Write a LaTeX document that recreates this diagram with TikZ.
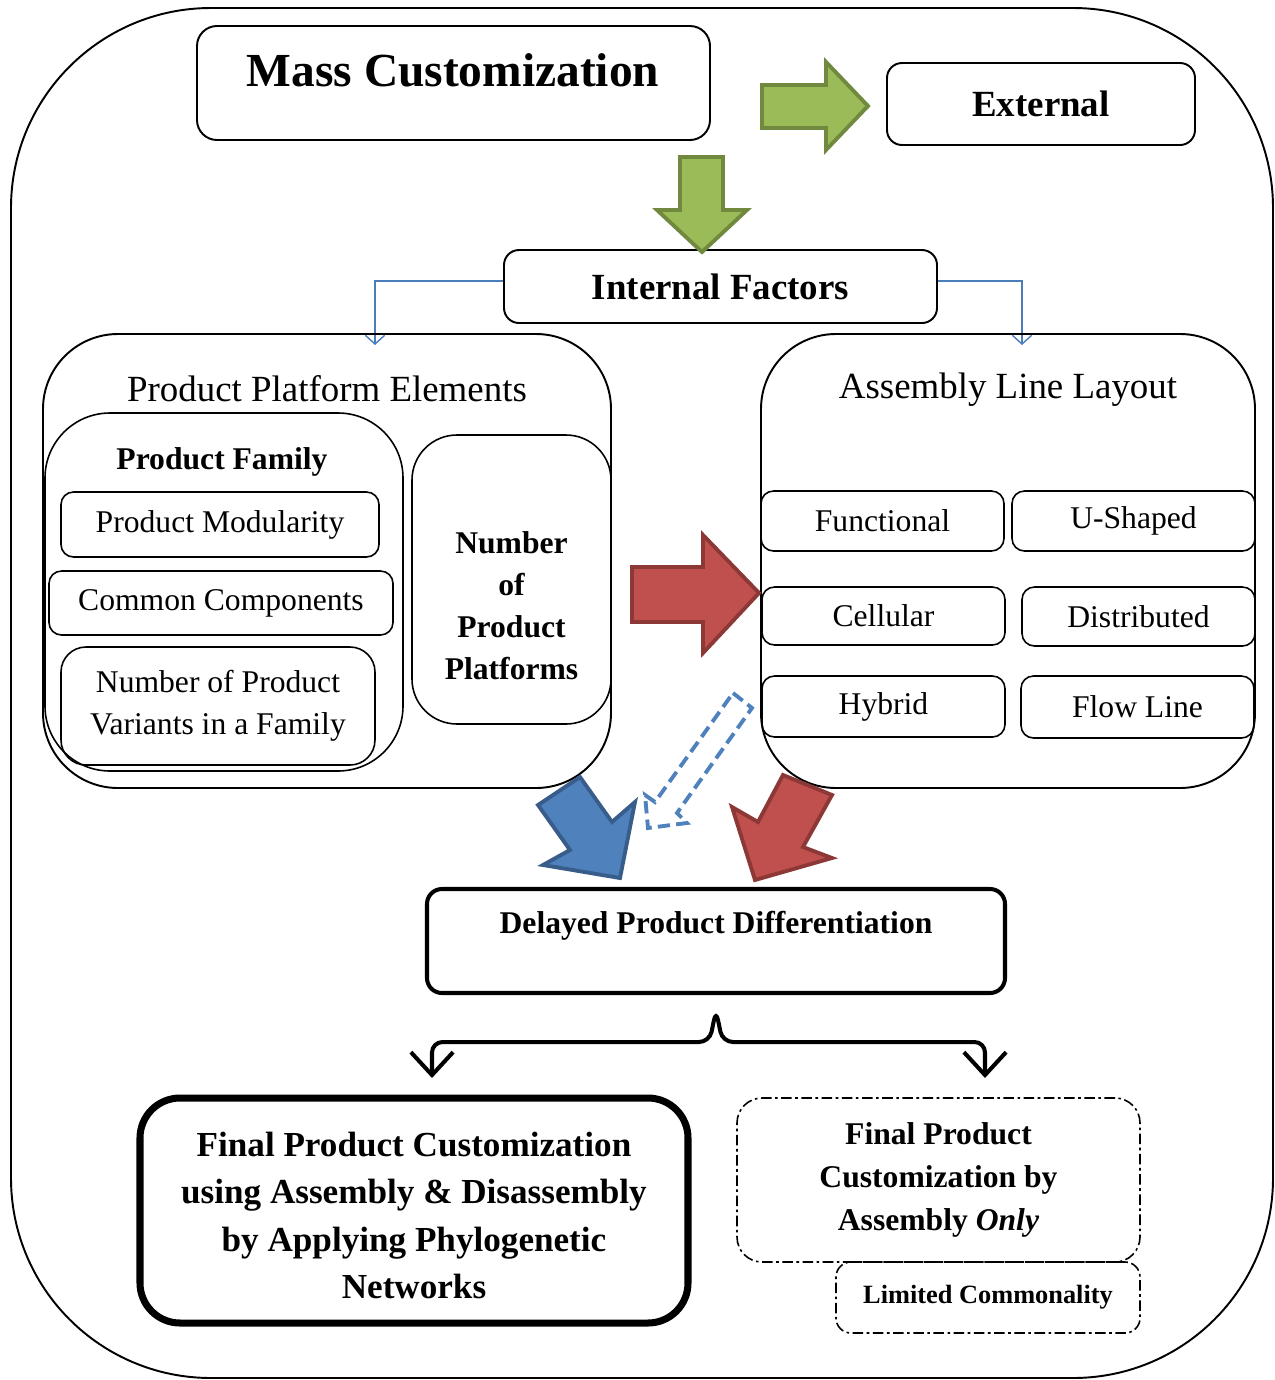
\documentclass[tikz,border=0pt]{standalone}
\usepackage{fontspec}
\setmainfont{Liberation Serif}
\usetikzlibrary{arrows.meta,fit,positioning}
\definecolor{greenfill}{HTML}{9BBB59}
\definecolor{greenline}{HTML}{71893F}
\definecolor{redfill}{HTML}{C0504D}
\definecolor{redline}{HTML}{8C3836}
\definecolor{bluefill}{HTML}{4F81BD}
\definecolor{blueline}{HTML}{385D8A}
\definecolor{linkblue}{HTML}{4A7EBB}

\begin{document}
\begin{tikzpicture}[x=0.02cm,y=-0.02cm]
	\tikzstyle{box} = [draw, line width=1.1pt, rounded corners=0.3cm, inner sep=0pt]
	\tikzstyle{item} = [draw, line width=0.9pt, rounded corners=0.25cm, inner sep=0pt]
	\tikzstyle{ddbox} = [draw, line width=0.9pt, rounded corners=0.5cm, inner sep=0pt, dash pattern=on 6pt off 2pt on 1.5pt off 2pt]
	\tikzstyle{itemtext} = [align=center, font=\fontsize{18}{24}\selectfont]
	\tikzstyle{boldtext} = [align=center, font=\fontsize{18}{24}\selectfont\bfseries]
	\tikzstyle{head} = [font=\fontsize{21}{25}\selectfont\bfseries]
	\tikzstyle{title} = [font=\fontsize{21}{25}\selectfont]
	\tikzstyle{greenarrow} = [fill=greenfill, draw=greenline, line width=2.2pt]
	\tikzstyle{redarrow} = [fill=redfill, draw=redline, line width=2.2pt]
	\tikzstyle{bluearrow} = [fill=bluefill, draw=blueline, line width=2.2pt]
	\tikzstyle{link} = [draw=linkblue, line width=0.8pt, -{Straight Barb[length=5pt,width=11pt]}]
	\tikzstyle{brace} = [line width=2.3pt, rounded corners=6pt, {Straight Barb[length=13pt,width=24pt]}-{Straight Barb[length=13pt,width=24pt]}]
	\useasboundingbox (0,0) rectangle (1275,1380);
	\draw[line width=1.1pt, rounded corners=4cm] (11,8) rectangle (1273,1378);

	\node[box, rounded corners=0.4cm, fit={(197,26) (710,140)}] (mass) {};
	\node[font=\fontsize{27}{32}\selectfont\bfseries] (masst) at (453,70) {Mass Customization};
	\node[box, fit={(887,63) (1195,145)}, label={[head]center:External}] (external) {};
	\node[box, fit={(504,250) (937,323)}, label={[head]center:Internal Factors}] (internal) {};
	\draw[greenarrow] (762,85) -- (826,85) -- (826,62) -- (868,106) -- (826,150) -- (826,128) -- (762,128) -- cycle;
	\draw[greenarrow] (680,157) -- (723,157) -- (723,210) -- (747,210) -- (702,252) -- (657,210) -- (680,210) -- cycle;

	\coordinate (ppeIn) at (375,345);
	\coordinate (allIn) at (1022,345);
	\draw[link] ([yshift=0.11cm]internal.west) -| (ppeIn);
	\draw[link] ([yshift=0.11cm]internal.east) -| (allIn);

	\node[box, rounded corners=1.5cm, fit={(43,334) (611,788)}] (ppe) {};
	\node[title] (ppet) at (327,389) {Product Platform Elements};
	\node[box, line width=0.9pt, rounded corners=1.3cm, fit={(45,413) (403,771)}] (family) {};
	\node[boldtext] (familyt) at (222,462) {Product Family};
	\node[item, fit={(61,492) (379,557)}, label={[itemtext]center:Product Modularity}] (modularity) {};
	\node[item, fit={(49,571) (393,635)}, label={[itemtext]center:Common Components}] (common) {};
	\node[item, rounded corners=0.5cm, fit={(61,647) (375,765)}, label={[itemtext]center:Number of Product\\Variants in a Family}] (variants) {};
	\node[item, rounded corners=0.9cm, fit={(412,435) (611,724)}, label={[boldtext, yshift=-0.52cm]center:Number\\of\\Product\\Platforms}] (platforms) {};

	\node[box, rounded corners=1.5cm, fit={(761,334) (1255,788)}] (layout) {};
	\node[title] (layoutt) at (1008,390) {Assembly Line Layout};
	\node[item, fit={(761,491) (1004,551)}, label={[itemtext]center:Functional}] (functional) {};
	\node[item, fit={(1012,491) (1255,551)}, label={[itemtext]center:U-Shaped}] (ushaped) {};
	\node[item, fit={(762,587) (1005,645)}, label={[itemtext]center:Cellular}] (cellular) {};
	\node[item, fit={(1022,587) (1255,646)}, label={[itemtext]center:Distributed}] (distributed) {};
	\node[item, fit={(762,676) (1005,737)}, label={[itemtext]center:Hybrid}] (hybrid) {};
	\node[item, fit={(1021,676) (1254,738)}, label={[itemtext]center:Flow Line}] (flowline) {};

	\draw[redarrow] (632,567) -- (703,567) -- (703,535) -- (759,593) -- (703,653) -- (703,622) -- (632,622) -- cycle;
	\draw[draw=bluefill, line width=2.2pt, dash pattern=on 7pt off 3.5pt] (733,693) -- (752,708) -- (677,813) -- (687,823) -- (648,828) -- (645,795) -- (655,802) -- cycle;
	\draw[bluearrow] (538,805) -- (580,777) -- (612,822) -- (635,802) -- (620,878) -- (543,865) -- (570,850) -- cycle;
	\draw[redarrow] (783,775) -- (832,795) -- (803,847) -- (832,858) -- (755,880) -- (732,807) -- (758,822) -- cycle;

	\node[box, line width=2.3pt, rounded corners=0.3cm, fit={(427,889) (1005,993)}] (delayed) {};
	\node[boldtext] (delayedt) at (716,926) {Delayed Product Differentiation};

	\node[box, line width=4pt, rounded corners=0.8cm, fit={(140,1098) (688,1323)}, label={[align=center, yshift=-0.1cm, font=\fontsize{20}{27}\selectfont\bfseries]center:Final Product Customization\\using Assembly \& Disassembly\\by Applying Phylogenetic\\Networks}] (final1) {};
	\node[ddbox, fit={(737,1098) (1140,1262)}, label={[align=center, font=\fontsize{18}{24.5}\selectfont\bfseries]center:Final Product\\Customization by\\Assembly \textit{Only}}] (final2) {};
	\node[ddbox, rounded corners=0.3cm, fit={(836,1262) (1140,1333)}, label={[font=\fontsize{15}{18}\selectfont\bfseries]center:Limited Commonality}] (limited) {};

	\coordinate (split) at ([yshift=-0.3cm]delayed.south);
	\coordinate (tipL) at (432,1078);
	\coordinate (tipR) at (985,1078);
	\draw[brace] (tipL) |- ([xshift=-0.13cm,yshift=-0.64cm]split) -- (split) -- ([xshift=0.13cm,yshift=-0.64cm]split) -| (tipR);
\end{tikzpicture}
\end{document}
